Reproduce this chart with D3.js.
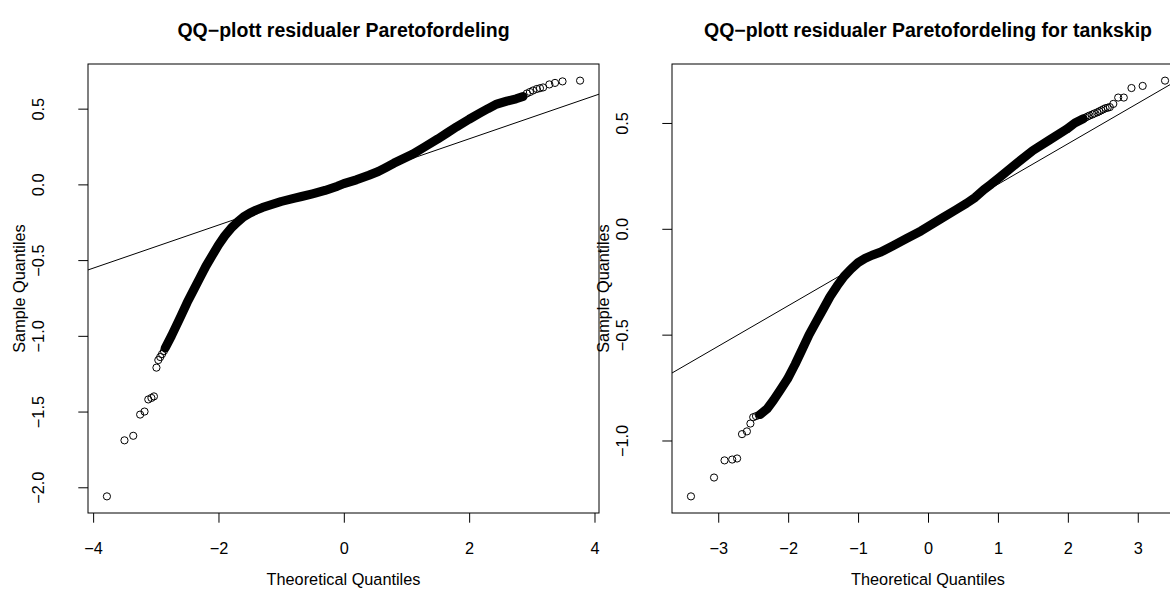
<!DOCTYPE html>
<html>
<head>
<meta charset="utf-8">
<script src="https://cdn.jsdelivr.net/npm/d3@7"></script>
<style>
  html, body { margin: 0; padding: 0; background: #fff; overflow: hidden; }
  svg { display: block; font-family: "Liberation Sans", Arial, Helvetica, sans-serif; }
</style>
</head>
<body>
<script>
// ---- left panel: all ships (theoretical vs sample quantiles)
const leftLowTheo   = [-3.78, -3.50, -3.36, -3.25, -3.18, -3.12, -3.07, -3.03, -2.99, -2.96, -2.93, -2.90, -2.87];
const leftLowSample = [-2.06, -1.69, -1.66, -1.52, -1.50, -1.42, -1.41, -1.40, -1.21, -1.16, -1.14, -1.12, -1.10];

const leftBandTheo   = [-2.85, -2.75, -2.6, -2.5, -2.4, -2.3, -2.2, -2.1, -2.0, -1.9, -1.8, -1.7, -1.6, -1.5, -1.4, -1.3, -1.2, -1.0, -0.8, -0.674, -0.5, -0.3, -0.1, 0, 0.2, 0.4, 0.55, 0.674, 0.8, 0.9, 1.0, 1.1, 1.3, 1.5, 1.65, 1.8, 2.0, 2.17, 2.3, 2.44, 2.6, 2.75, 2.86];
const leftBandSample = [-1.08, -1.00, -0.87, -0.78, -0.70, -0.62, -0.54, -0.47, -0.40, -0.34, -0.29, -0.25, -0.215, -0.19, -0.17, -0.153, -0.14, -0.113, -0.092, -0.080, -0.062, -0.04, -0.012, 0.005, 0.03, 0.06, 0.085, 0.112, 0.14, 0.16, 0.18, 0.20, 0.25, 0.30, 0.34, 0.38, 0.43, 0.47, 0.50, 0.53, 0.55, 0.565, 0.58];

const leftHighTheo   = [2.92, 2.97, 3.02, 3.08, 3.13, 3.18, 3.28, 3.37, 3.49, 3.77];
const leftHighSample = [0.60, 0.61, 0.62, 0.63, 0.635, 0.64, 0.66, 0.67, 0.68, 0.685];

const leftQuartiles = [-0.080, 0.112];   // sample quartiles used by qqline
const leftXTicks = [-4, -2, 0, 2, 4];
const leftYTicks = [0.5, 0.0, -0.5, -1.0, -1.5, -2.0];

// ---- right panel: tankers
const rightLowTheo   = [-3.39, -3.06, -2.91, -2.80, -2.73, -2.66, -2.59, -2.54, -2.50, -2.46, -2.42];
const rightLowSample = [-1.264, -1.175, -1.094, -1.09, -1.085, -0.97, -0.957, -0.92, -0.89, -0.885, -0.88];

const rightBandTheo   = [-2.40, -2.30, -2.21, -2.11, -2.01, -1.9, -1.8, -1.7, -1.6, -1.5, -1.4, -1.3, -1.2, -1.1, -1.0, -0.9, -0.8, -0.674, -0.5, -0.3, -0.1, 0, 0.2, 0.4, 0.55, 0.674, 0.8, 0.9, 1.03, 1.27, 1.5, 1.74, 1.98, 2.1, 2.22];
const rightBandSample = [-0.877, -0.85, -0.81, -0.76, -0.71, -0.64, -0.57, -0.50, -0.44, -0.38, -0.32, -0.27, -0.225, -0.19, -0.16, -0.14, -0.125, -0.110, -0.08, -0.045, -0.01, 0.01, 0.05, 0.09, 0.12, 0.148, 0.185, 0.21, 0.245, 0.31, 0.37, 0.42, 0.47, 0.50, 0.52];

const rightHighTheo   = [2.25, 2.28, 2.31, 2.35, 2.38, 2.42, 2.45, 2.48, 2.51, 2.54, 2.57, 2.60, 2.65, 2.72, 2.80, 2.91, 3.07, 3.39];
const rightHighSample = [0.525, 0.53, 0.535, 0.54, 0.545, 0.55, 0.555, 0.56, 0.565, 0.57, 0.572, 0.575, 0.59, 0.62, 0.62, 0.665, 0.675, 0.70];

const rightQuartiles = [-0.110, 0.148];
const rightXTicks = [-3, -2, -1, 0, 1, 2, 3];
const rightYTicks = [0.5, 0.0, -0.5, -1.0];

const titles = ["QQ\u2212plott residualer Paretofordeling", "QQ\u2212plott residualer Paretofordeling for tankskip"];
const xLabel = "Theoretical Quantiles";
const yLabel = "Sample Quantiles";

// ---- layout
const width = 1170;
const height = 592;
const labelSize = 16.3;
const titleSize = 19.5;

const svg = d3.select("body").append("svg")
    .attr("width", width)
    .attr("height", height);

const zip = (a, b) => a.map((v, i) => [v, b[i]]);
const minus = s => String(s).replace("-", "\u2212");

// R style axis range: data range padded by 4% each side
function padExtent(values) {
    const [lo, hi] = d3.extent(values);
    const pad = (hi - lo) * 0.04;
    return [lo - pad, hi + pad];
}

function drawPanel(p) {
    const low = zip(p.lowTheo, p.lowSample);
    const band = zip(p.bandTheo, p.bandSample);
    const high = zip(p.highTheo, p.highSample);
    const all = low.concat(band, high);

    const x = d3.scaleLinear()
        .domain(padExtent(all.map(d => d[0])))
        .range([p.left, p.right]);
    const y = d3.scaleLinear()
        .domain(padExtent(all.map(d => d[1])))
        .range([p.bottom, p.top]);

    const g = svg.append("g");

    g.append("clipPath").attr("id", p.id)
      .append("rect")
        .attr("x", p.left).attr("y", p.top)
        .attr("width", p.right - p.left).attr("height", p.bottom - p.top);

    const plot = g.append("g").attr("clip-path", `url(#${p.id})`);

    // dense part of the sample: overlapping circles become a solid band
    plot.append("path")
        .datum(band)
        .attr("fill", "none")
        .attr("stroke", "#000")
        .attr("stroke-width", 9)
        .attr("stroke-linecap", "round")
        .attr("stroke-linejoin", "round")
        .attr("d", d3.line().x(d => x(d[0])).y(d => y(d[1])));

    // separate points in the tails
    plot.selectAll("circle.pt")
        .data(low.concat(high))
        .join("circle")
        .attr("class", "pt")
        .attr("cx", d => x(d[0]))
        .attr("cy", d => y(d[1]))
        .attr("r", 3.6)
        .attr("fill", "none")
        .attr("stroke", "#000")
        .attr("stroke-width", 1);

    // qqline through the quartiles
    const q = 0.6745;
    const slope = (p.quartiles[1] - p.quartiles[0]) / (2 * q);
    const icpt = p.quartiles[0] + slope * q;
    const [x0, x1] = x.domain();
    plot.append("line")
        .attr("x1", x(x0)).attr("y1", y(icpt + slope * x0))
        .attr("x2", x(x1)).attr("y2", y(icpt + slope * x1))
        .attr("stroke", "#000")
        .attr("stroke-width", 1);

    // box
    g.append("rect")
        .attr("x", p.left).attr("y", p.top)
        .attr("width", p.right - p.left).attr("height", p.bottom - p.top)
        .attr("fill", "none")
        .attr("stroke", "#000")
        .attr("stroke-width", 1);

    // x axis
    g.append("g")
        .attr("transform", `translate(0,${p.bottom})`)
        .call(d3.axisBottom(x).tickValues(p.xTicks).tickSize(9.7).tickPadding(19.7).tickFormat(d => minus(d)))
        .call(a => a.select(".domain").remove())
        .call(a => a.selectAll("text").attr("font-size", labelSize).attr("fill", "#000").attr("font-family", null))
        .call(a => a.selectAll("line").attr("stroke", "#000"));

    // y axis, labels parallel to axis
    g.append("g")
        .attr("transform", `translate(${p.left},0)`)
        .call(d3.axisLeft(y).tickValues(p.yTicks).tickSize(9.7).tickFormat(d => minus(d3.format(".1f")(d))))
        .call(a => a.select(".domain").remove())
        .call(a => a.selectAll("line").attr("stroke", "#000"))
        .call(a => a.selectAll("text")
            .attr("font-size", labelSize)
            .attr("fill", "#000")
            .attr("font-family", null)
            .attr("transform", "rotate(-90)")
            .attr("x", 0)
            .attr("y", -44)
            .attr("dy", null)
            .attr("text-anchor", "middle"));

    // titles
    const cx = (p.left + p.right) / 2;
    g.append("text")
        .attr("x", cx).attr("y", 37)
        .attr("text-anchor", "middle")
        .attr("font-weight", "bold")
        .attr("font-size", titleSize)
        .text(p.title);

    g.append("text")
        .attr("x", cx).attr("y", 585)
        .attr("text-anchor", "middle")
        .attr("font-size", labelSize)
        .text(xLabel);

    g.append("text")
        .attr("transform", `translate(${p.left - 63},${(p.top + p.bottom) / 2}) rotate(-90)`)
        .attr("text-anchor", "middle")
        .attr("font-size", labelSize)
        .text(yLabel);
}

drawPanel({
    id: "clipLeft", left: 88, right: 599, top: 64, bottom: 513,
    lowTheo: leftLowTheo, lowSample: leftLowSample,
    bandTheo: leftBandTheo, bandSample: leftBandSample,
    highTheo: leftHighTheo, highSample: leftHighSample,
    quartiles: leftQuartiles, xTicks: leftXTicks, yTicks: leftYTicks,
    title: titles[0]
});

drawPanel({
    id: "clipRight", left: 672, right: 1184, top: 64, bottom: 513,
    lowTheo: rightLowTheo, lowSample: rightLowSample,
    bandTheo: rightBandTheo, bandSample: rightBandSample,
    highTheo: rightHighTheo, highSample: rightHighSample,
    quartiles: rightQuartiles, xTicks: rightXTicks, yTicks: rightYTicks,
    title: titles[1]
});
</script>
</body>
</html>
